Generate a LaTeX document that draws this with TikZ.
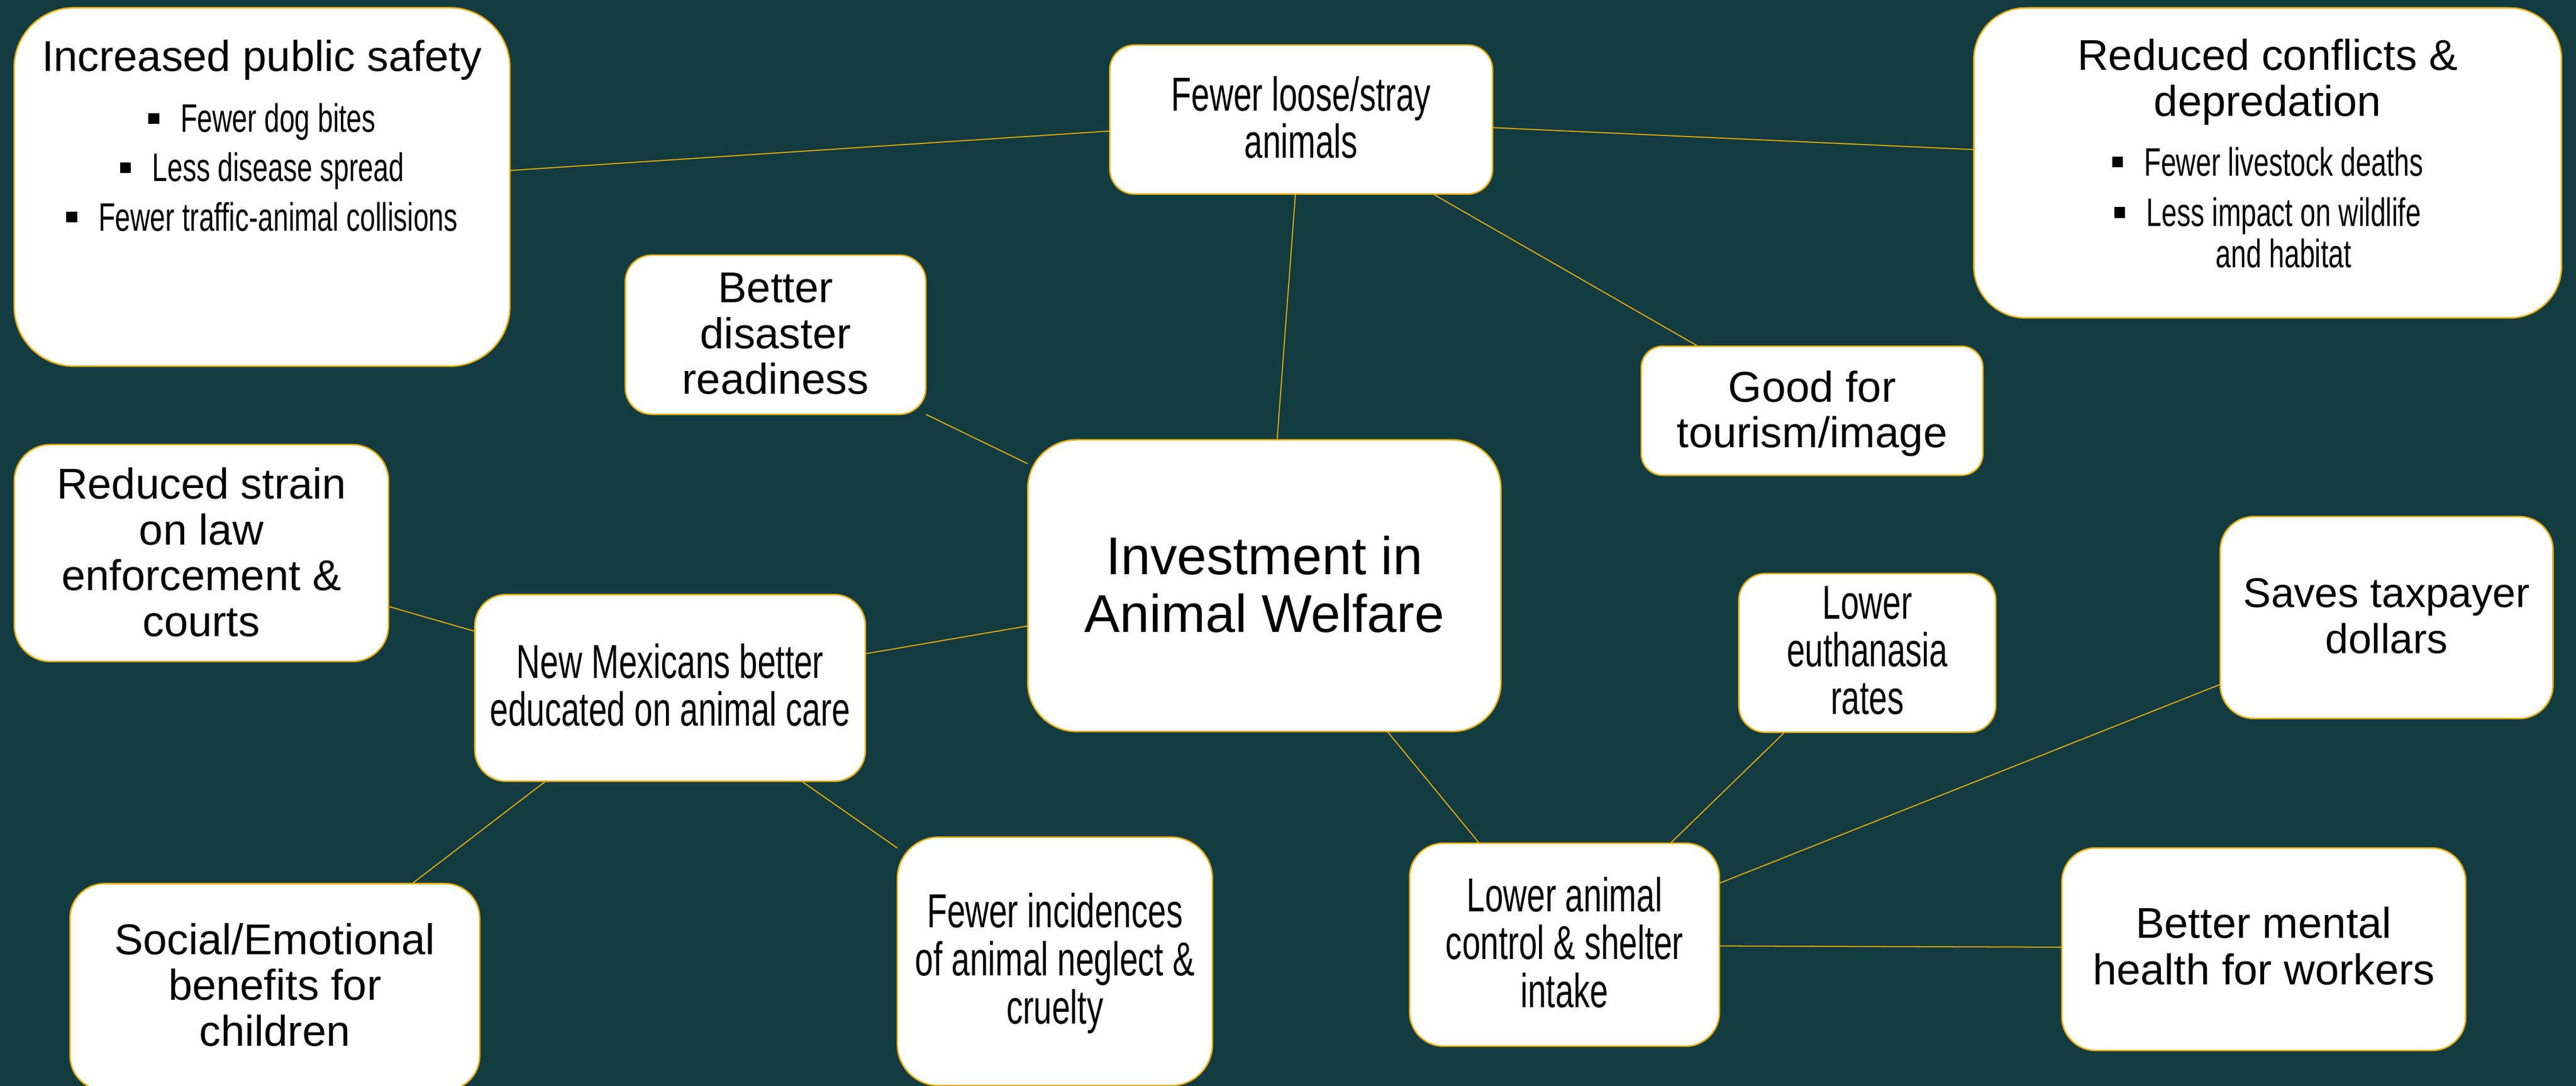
\documentclass[tikz,border=0pt]{standalone}
\usepackage{fontspec}
\setmainfont{Liberation Sans}
\newfontfamily\agencyfont[FakeStretch=0.69]{Liberation Sans}
\usetikzlibrary{calc}
\definecolor{bg}{RGB}{19,59,65}
\definecolor{gold}{RGB}{230,174,8}
\newcommand\Ln[2]{\hbox to\linewidth{\hss\raisebox{0pt}[#1][0pt]{#2}\hss}}
\newcommand\Bul{\rule[5.1pt]{6.6pt}{6.6pt}\hspace{13pt}}
\newcommand\Ar{\fontsize{26.2}{28}\selectfont}
\newcommand\Ag{\agencyfont\fontsize{29}{29}\selectfont}
\newcommand\Ab{\agencyfont\fontsize{24.2}{30}\selectfont}
\newcommand\Card[4]{\parbox[c][#2][t]{#1}{\offinterlineskip #4}}
\tikzset{
  card/.style={rectangle, draw=gold, line width=0.9pt, fill=white, inner sep=0pt, outer sep=0pt},
  link/.style={draw=gold, line width=0.65pt}
}
\begin{document}
\begin{tikzpicture}[x=1pt,y=-1pt]
\useasboundingbox (0,0) rectangle (1568,661.2);
\fill[bg] (0,0) rectangle (1568,661.2);
\clip (0,0) rectangle (1568,661.2);

\node[card, rounded corners=36.4pt] (safety) at (159.5,113.85)
  {\Card{301.8pt}{218.3pt}{}{\Ln{38.5pt}{\Ar Increased public safety}\Ln{37.3pt}{\Ab\Bul Fewer dog bites}\Ln{30pt}{\Ab\Bul Less disease spread}\Ln{30pt}{\Ab\Bul Fewer traffic-animal collisions}}};

\node[card, rounded corners=15.1pt] (stray) at (792,72.8)
  {\Card{233pt}{90.8pt}{}{\Ln{40.1pt}{\Ag Fewer loose/stray}\Ln{28.7pt}{\Ag animals}}};

\node[card, rounded corners=31.5pt] (conflicts) at (1380.3,99.2)
  {\Card{357.8pt}{188.8pt}{}{\Ln{37.9pt}{\Ar Reduced conflicts \&}\Ln{28pt}{\Ar depredation}\Ln{36.3pt}{\Ab\Bul Fewer livestock deaths}\Ln{30.8pt}{\Ab\Bul Less impact on wildlife}\Ln{25.2pt}{\Ab\hspace{19.6pt}and habitat}}};

\node[card, rounded corners=16.2pt] (disaster) at (472.1,203.8)
  {\Card{183pt}{97pt}{}{\Ln{28.7pt}{\Ar Better}\Ln{28.1pt}{\Ar disaster}\Ln{27.8pt}{\Ar readiness}}};

\node[card, rounded corners=13.1pt] (tourism) at (1103,250.1)
  {\Card{208pt}{78.6pt}{}{\Ln{33.9pt}{\Ar Good for}\Ln{27.8pt}{\Ar tourism/image}}};

\node[card, rounded corners=29.6pt] (invest) at (769.6,356.6)
  {\Card{288pt}{177.6pt}{}{\Ln{81.9pt}{\fontsize{32.4}{35}\selectfont Investment in}\Ln{35.3pt}{\fontsize{32.4}{35}\selectfont Animal Welfare}}};

\node[card, rounded corners=22pt] (law) at (122.6,336.75)
  {\Card{227.8pt}{132.1pt}{}{\Ln{32.9pt}{\Ar Reduced strain}\Ln{28pt}{\Ar on law}\Ln{28pt}{\Ar enforcement \&}\Ln{28pt}{\Ar courts}}};

\node[card, rounded corners=19pt] (newmex) at (407.9,418.85)
  {\Card{237.8pt}{113.7pt}{}{\Ln{51pt}{\Ag New Mexicans better}\Ln{28.9pt}{\Ag educated on animal care}}};

\node[card, rounded corners=16.1pt] (euth) at (1136.6,397.55)
  {\Card{156.4pt}{96.7pt}{}{\Ln{27.8pt}{\Ag Lower}\Ln{29pt}{\Ag euthanasia}\Ln{29pt}{\Ag rates}}};

\node[card, rounded corners=20.5pt] (tax) at (1452.7,376)
  {\Card{202.6pt}{123pt}{}{\Ln{55.1pt}{\fontsize{25.3}{28}\selectfont Saves taxpayer}\Ln{28.3pt}{\fontsize{25.3}{28}\selectfont dollars}}};

\node[card, rounded corners=21pt] (social) at (167.3,600.9)
  {\Card{249.4pt}{125.8pt}{}{\Ln{43pt}{\Ar Social/Emotional}\Ln{28pt}{\Ar benefits for}\Ln{28pt}{\Ar children}}};

\node[card, rounded corners=25.2pt] (neglect) at (642.1,585.35)
  {\Card{191.8pt}{151.3pt}{}{\Ln{55.1pt}{\Ag Fewer incidences}\Ln{29.3pt}{\Ag of animal neglect \&}\Ln{29.3pt}{\Ag cruelty}}};

\node[card, rounded corners=20.6pt] (intake) at (952.3,575.2)
  {\Card{188.6pt}{123.6pt}{}{\Ln{41.6pt}{\Ag Lower animal}\Ln{29pt}{\Ag control \& shelter}\Ln{29.3pt}{\Ag intake}}};

\node[card, rounded corners=20.5pt] (mental) at (1377.95,577.95)
  {\Card{245.9pt}{123.3pt}{}{\Ln{54.7pt}{\Ar Better mental}\Ln{28.5pt}{\Ar health for workers}}};

\draw[link] ($(safety.north east)!0.454!(safety.south east)$) -- ($(stray.north west)!0.577!(stray.south west)$);
\draw[link] ($(stray.north east)!0.554!(stray.south east)$) -- ($(conflicts.north west)!0.457!(conflicts.south west)$);
\draw[link] ($(stray.south west)!0.845!(stray.south east)$) -- ($(tourism.north west)!0.166!(tourism.north east)$);
\draw[link] ($(stray.south west)!0.485!(stray.south east)$) -- ($(invest.north west)!0.527!(invest.north east)$);
\draw[link] (disaster.south east) -- ($(invest.north west)!0.082!(invest.south west)$);
\draw[link] ($(invest.north west)!0.638!(invest.south west)$) -- ($(newmex.north east)!0.317!(newmex.south east)$);
\draw[link] ($(law.north east)!0.746!(law.south east)$) -- ($(newmex.north west)!0.197!(newmex.south west)$);
\draw[link] ($(newmex.south west)!0.181!(newmex.south east)$) -- ($(social.north west)!0.835!(social.north east)$);
\draw[link] ($(newmex.south west)!0.837!(newmex.south east)$) -- ($(neglect.north west)!0.044!(neglect.south west)$);
\draw[link] ($(invest.south west)!0.76!(invest.south east)$) -- ($(intake.north west)!0.225!(intake.north east)$);
\draw[link] ($(euth.south west)!0.178!(euth.south east)$) -- ($(intake.north west)!0.842!(intake.north east)$);
\draw[link] ($(tax.north west)!0.831!(tax.south west)$) -- ($(intake.north east)!0.197!(intake.south east)$);
\draw[link] ($(intake.north east)!0.506!(intake.south east)$) -- ($(mental.north west)!0.49!(mental.south west)$);
\end{tikzpicture}
\end{document}
